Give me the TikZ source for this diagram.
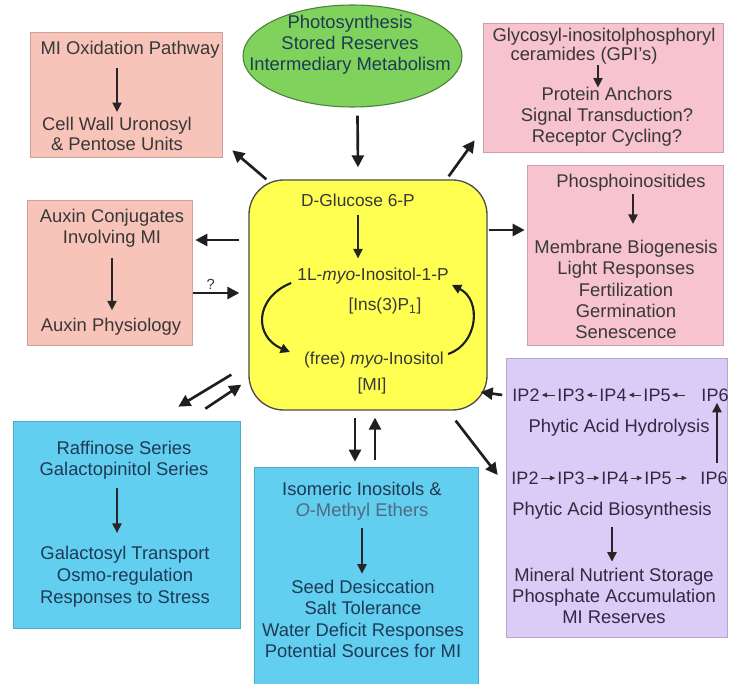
\documentclass[tikz,border=0pt]{standalone}
\usepackage{fontspec}
\setmainfont{Liberation Sans}
\usetikzlibrary{positioning,arrows.meta,calc,shapes.geometric}

\definecolor{salmon}{HTML}{F8C4BA}
\definecolor{rose}{HTML}{F6C3CF}
\definecolor{lemon}{HTML}{FFFF52}
\definecolor{leaf}{HTML}{7FD35C}
\definecolor{sky}{HTML}{62CFF0}
\definecolor{lilac}{HTML}{DACCF6}
\definecolor{ink}{HTML}{383838}
\definecolor{navy}{HTML}{1F3A55}
\definecolor{slate}{HTML}{4F6A80}
\definecolor{plum}{HTML}{2F2A42}

\begin{document}
\begin{tikzpicture}[x=0.75pt, y=-0.75pt, font=\fontsize{13.8}{15.6}\selectfont,
  >={Triangle[length=7pt, width=7pt]},
  boxsize/.style 2 args={minimum width=#1*0.75pt, minimum height=#2*0.75pt},
  panel/.style={rectangle, draw=#1!82!black, fill=#1, line width=0.5pt, inner sep=0pt},
  corebox/.style={rectangle, rounded corners=26pt, draw=black!70, fill=lemon, line width=1pt},
  srcell/.style={ellipse, draw=leaf!60!black, fill=leaf, line width=0.8pt, inner sep=0pt},
  txt/.style={align=center, inner sep=0pt, text=ink},
  btxt/.style={txt, text=navy},
  ptxt/.style={txt, text=plum},
  ytxt/.style={txt, font=\fontsize{13}{15}\selectfont},
  iptxt/.style={ptxt, font=\fontsize{13.5}{15}\selectfont},
  bigarr/.style={->, line width=2pt, black!88, >={Triangle[length=9pt, width=9pt]}},
  inarr/.style={->, line width=1pt, black!85},
  cycarr/.style={->, line width=1.6pt, black!88, >={Triangle[length=7pt, width=7pt]}},
  iparr/.style={->, line width=0.6pt, black!80, >={Triangle[length=4pt, width=3.5pt]}, shorten <=2pt, shorten >=1.5pt},
]
\useasboundingbox (0,0) rectangle (729,684);

% ---------------- panels ----------------
\node[panel=salmon, boxsize={192}{125}] (oxbox) at (126,94.5) {};
\node[srcell, boxsize={219}{102}] (src) at (352.5,56) {};
\node[panel=rose, boxsize={240}{129}] (gpibox) at (603,87.5) {};
\node[panel=rose, boxsize={196}{180}] (pibox) at (625,255) {};
\node[panel=salmon, boxsize={165}{145}] (auxbox) at (109.5,272.5) {};
\node[corebox, boxsize={238}{230}] (core) at (368,295) {};
\node[panel=lilac, boxsize={221}{279}] (ipbox) at (616.5,497.5) {};
\node[panel=sky, boxsize={227}{207}] (rafbox) at (126.5,524.5) {};
\node[panel=sky, boxsize={224}{222}] (isobox) at (366,578) {};

% ---------------- texts ----------------
\node[txt] (ox1) at (130,50) {MI Oxidation Pathway};
\node[txt] (ox2) at (117,134) {Cell Wall Uronosyl\\\& Pentose Units};
\node[btxt] (srctxt) at (350,45) {Photosynthesis\\Stored Reserves\\Intermediary Metabolism};
\node[txt] (gpi1) at (604,37) {Glycosyl-inositolphosphoryl};
\node[txt] (gpi2) at (584,56) {ceramides (GPI's)};
\node[txt] (gpi3) at (607,117) {Protein Anchors\\Signal Transduction?\\Receptor Cycling?};
\node[txt] (pi1) at (631,183) {Phosphoinositides};
\node[txt, font=\fontsize{13.8}{16}\selectfont] (pi2) at (626,289.5) {Membrane Biogenesis\\Light Responses\\Fertilization\\Germination\\Senescence};
\node[txt] (aux1) at (112,228) {Auxin Conjugates\\Involving MI};
\node[txt] (aux2) at (111,327) {Auxin Physiology};
\node[ytxt] (glc) at (358,200) {D-Glucose 6-P};
\node[ytxt] (ino1p) at (373,276) {1L-\textit{myo}-Inositol-1-P};
\node[ytxt] (ins3p) at (385,306) {[Ins(3)P\textsubscript{1}]};
\node[ytxt] (freemi) at (374,360) {(free) \textit{myo}-Inositol};
\node[ytxt] (mi) at (372,386) {[MI]};
\node[ptxt] (hyd) at (619,428) {Phytic Acid Hydrolysis};
\node[ptxt] (bio) at (612,511) {Phytic Acid Biosynthesis};
\node[ptxt] (store) at (614,596) {Mineral Nutrient Storage\\Phosphate Accumulation\\MI Reserves};
\node[btxt] (raf1) at (124,460) {Raffinose Series\\Galactopinitol Series};
\node[btxt, font=\fontsize{13.8}{16.5}\selectfont] (raf2) at (125,577) {Galactosyl Transport\\Osmo-regulation\\Responses to Stress};
\node[btxt] (iso1) at (362,501) {Isomeric Inositols \&\\{\color{slate}\textit{O}-Methyl Ethers}};
\node[btxt, font=\fontsize{13.8}{16.2}\selectfont] (iso2) at (363,619) {Seed Desiccation\\Salt Tolerance\\Water Deficit Responses\\Potential Sources for MI};

% IP rows (hydrolysis above, biosynthesis below)
\foreach \n/\xh/\xb in {2/526/525, 3/571/571, 4/613/615, 5/657/658, 6/715/714} {
  \node[iptxt] (iph\n) at (\xh,395) {IP\n};
  \node[iptxt] (ipb\n) at (\xb,478) {IP\n};
}
\foreach \a/\b in {2/3, 3/4, 4/5} {
  \draw[iparr] (iph\b.west) -- (iph\a.east);
  \draw[iparr] (ipb\a.east) -- (ipb\b.west);
}
\draw[iparr, shorten <=12pt, shorten >=1pt] (iph6.west) -- (iph5.east);
\draw[iparr, shorten <=3pt, shorten >=10pt] (ipb5.east) -- (ipb6.west);

% ---------------- arrows inside panels ----------------
\draw[inarr, shorten <=7pt, shorten >=3.5pt] (ox2.north |- ox1.south) -- (ox2.north);
\draw[inarr] ([shift={(14,0)}]gpi2.south) -- ([shift={(-9,0)}]gpi3.north);
\draw[inarr, shorten <=1.5pt, shorten >=12pt] ([shift={(2,0)}]pi1.south) -- ([shift={(2,0)}]pi1.south |- pi2.north);
\draw[inarr, shorten <=8pt, shorten >=6pt] (aux1.south) -- (aux1.south |- aux2.north);
\draw[inarr, shorten <=6pt, shorten >=7pt] (glc.south) -- (glc.south |- ino1p.north);
\draw[cycarr] ([shift={(-6,7)}]ino1p.west) .. controls +(-37,15) and +(-36,-15) .. ([shift={(-14,-8)}]freemi.west);
\draw[cycarr] ([shift={(4,-6)}]freemi.east) .. controls +(30,-10) and +(30,15) .. ([shift={(3,9)}]ino1p.east);
\draw[inarr, shorten <=6pt, shorten >=1pt] ([shift={(3,0)}]ipb6.north) -- ([shift={(3,0)}]ipb6.north |- iph6.south);
\draw[inarr, shorten <=5.5pt, shorten >=5pt] (bio.south) -- (bio.south |- store.north);
\draw[inarr, shorten <=6.5pt, shorten >=10pt] ([shift={(-7,0)}]raf1.south) -- ([shift={(-7,0)}]raf1.south |- raf2.north);
\draw[inarr, shorten <=6pt, shorten >=4.5pt] (iso1.south) -- (iso1.south |- iso2.north);

% ---------------- arrows between panels ----------------
\draw[bigarr] ([shift={(5,8)}]src.south) -- ([shift={(-10,-12)}]core.north);
\draw[bigarr] ([shift={(18,0)}]core.north west) -- ([shift={(10,-7)}]oxbox.south east);
\draw[bigarr] ([shift={(-39,-3)}]core.north east) -- ([shift={(-8,-12)}]gpibox.south west);
\draw[bigarr] ([shift={(1,-65)}]core.east) -- ([shift={(-2,-25)}]pibox.west);
\draw[bigarr] ([shift={(-9,-55)}]core.west) -- ([shift={(3,-32.5)}]auxbox.east);
\draw[bigarr] ([shift={(1,20.5)}]auxbox.east) -- node[pos=0.38, above=1.5pt, inner sep=0pt, text=ink, font=\fontsize{11}{12}\selectfont] (qmark) {?} ([shift={(-9,-2)}]core.west);
\draw[bigarr] ([shift={(-17,-36)}]core.south west) -- ([shift={(-62,-14)}]rafbox.north east);
\draw[bigarr] ([shift={(-35,-12)}]rafbox.north east) -- ([shift={(-7,-26)}]core.south west);
\draw[bigarr] ([shift={(-13,7)}]core.south) -- ([shift={(-11,-5)}]isobox.north);
\draw[bigarr] ([shift={(9,-7)}]isobox.north) -- ([shift={(7,7)}]core.south);
\draw[bigarr] ([shift={(-32,10)}]core.south east) -- ([shift={(-8,-22.5)}]ipbox.west);
\draw[bigarr] ([shift={(-10,0)}]iph2.west) -- ([shift={(-7,97)}]core.east);
\end{tikzpicture}
\end{document}
